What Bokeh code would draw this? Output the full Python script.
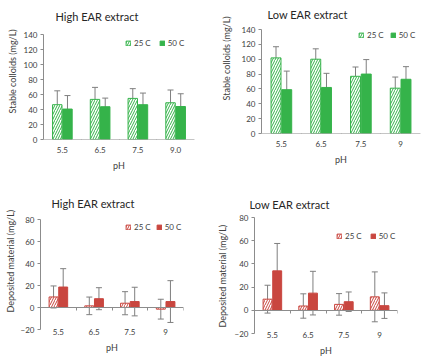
from bokeh.plotting import figure
from bokeh.layouts import column, row
from bokeh.models import (ColumnDataSource, Range1d, LinearAxis, FixedTicker,
                          Whisker, TeeHead, Legend, LegendItem, Title)
from bokeh.embed import file_html
from bokeh.resources import INLINE

# ---------------- data ----------------
ph_high = ["5.5", "6.5", "7.5", "9.0"]
ph_low = ["5.5", "6.5", "7.5", "9"]
series = ["25 C", "50 C"]

# Stable colloids (mg/L)
high_stable_25 = [46.4, 53.5, 54.8, 49.0]
high_stable_25_err = [18.5, 16.0, 13.0, 17.0]
high_stable_50 = [40.6, 43.7, 46.4, 44.0]
high_stable_50_err = [18.0, 11.5, 15.5, 17.0]

low_stable_25 = [101.8, 100.0, 77.0, 61.0]
low_stable_25_err = [15.0, 14.0, 12.5, 15.0]
low_stable_50 = [59.0, 62.0, 80.0, 73.0]
low_stable_50_err = [25.0, 19.0, 19.5, 17.0]

# Deposited material (mg/L)
high_dep_25 = [9.6, 1.5, 3.9, -1.5]
high_dep_25_err = [10.0, 8.0, 10.5, 9.0]
high_dep_50 = [18.6, 8.0, 5.4, 5.4]
high_dep_50_err = [16.7, 10.0, 13.0, 19.0]

low_dep_25 = [9.6, 3.7, 5.1, 11.6]
low_dep_25_err = [12.0, 10.5, 9.3, 21.5]
low_dep_50 = [34.0, 14.8, 7.4, 4.0]
low_dep_50_err = [23.6, 18.8, 8.4, 11.0]

GREEN = "#35b34a"
RED = "#c9463f"
AXIS = "#8c8c8c"
ERR = "#7f7f7f"
TXT = "#404040"
FONT = "Lato"


def panel(title, ylabel, cats, v25, e25, v50, e50, color, yr, ystep,
          w, h, borders, title_off, title_standoff, ylab_off, ylab_standoff,
          legend_loc, legend_spacing, xlab_standoff):
    left, right, top, bottom = borders
    n = len(cats)
    off = 0.135
    centers = [i + 0.5 for i in range(n)]
    src = ColumnDataSource(dict(
        x25=[c - off for c in centers], x50=[c + off for c in centers],
        v25=v25, v50=v50,
        u25=[a + b for a, b in zip(v25, e25)], l25=[a - b for a, b in zip(v25, e25)],
        u50=[a + b for a, b in zip(v50, e50)], l50=[a - b for a, b in zip(v50, e50)],
    ))
    p = figure(width=w, height=h, x_range=Range1d(0, n), y_range=Range1d(*yr),
               output_backend="svg", toolbar_location=None,
               min_border_left=left, min_border_right=right,
               min_border_top=top, min_border_bottom=bottom)
    p.outline_line_color = None
    p.grid.visible = False
    p.background_fill_color = "white"

    # title
    p.title.text = title
    p.title.align = "left"
    p.title.vertical_align = "top"
    p.title.offset = title_off
    p.title.text_font = FONT
    p.title.text_font_size = "11px"
    p.title.text_font_style = "normal"
    p.title.text_color = "#262626"
    p.title.standoff = title_standoff

    r25 = p.vbar(x="x25", top="v25", width=0.25, source=src,
                 fill_color="white", line_color=color, line_width=1,
                 hatch_pattern="/", hatch_color=color, hatch_scale=5, hatch_weight=1)
    r50 = p.vbar(x="x50", top="v50", width=0.25, source=src,
                 fill_color=color, line_color=color)
    for b, u, l in (("x25", "u25", "l25"), ("x50", "u50", "l50")):
        wk = Whisker(base=b, upper=u, lower=l, source=src,
                     line_color=ERR, line_width=1,
                     upper_head=TeeHead(size=6, line_color=ERR, line_width=1),
                     lower_head=TeeHead(size=6, line_color=ERR, line_width=1))
        p.add_layout(wk)

    # category axis (labels only)
    xa = p.xaxis[0]
    xa.ticker = FixedTicker(ticks=centers)
    xa.major_label_overrides = {c: lab for c, lab in zip(centers, cats)}
    xa.axis_line_color = None
    xa.major_tick_line_color = None
    xa.major_tick_in = 0
    xa.major_tick_out = 0
    xa.minor_tick_line_color = None
    xa.major_label_standoff = xlab_standoff
    xa.major_label_text_font = FONT
    xa.major_label_text_font_size = "8px"
    xa.major_label_text_color = TXT
    xa.axis_label = "pH"
    xa.axis_label_text_font = FONT
    xa.axis_label_text_font_size = "9px"
    xa.axis_label_text_font_style = "normal"
    xa.axis_label_text_color = TXT
    xa.axis_label_standoff = 4

    # boundary ticks + axis line at y = 0
    bticks = list(range(1, n + 1))
    ba = LinearAxis(fixed_location=0, ticker=FixedTicker(ticks=bticks),
                    major_label_overrides={t: "" for t in bticks},
                    major_label_text_font_size="1px", major_label_standoff=-4,
                    major_tick_in=0, major_tick_out=3, minor_tick_in=0, minor_tick_out=0,
                    axis_line_color=AXIS, major_tick_line_color=AXIS)
    p.add_layout(ba, "below")

    ya = p.yaxis[0]
    ya.ticker = FixedTicker(ticks=list(range(yr[0], yr[1] + 1, ystep)))
    ya.axis_line_color = AXIS
    ya.major_tick_line_color = AXIS
    ya.major_tick_in = 0
    ya.major_tick_out = 3
    ya.minor_tick_line_color = None
    ya.major_label_standoff = 3
    ya.major_label_text_font = FONT
    ya.major_label_text_font_size = "8px"
    ya.major_label_text_color = TXT

    yt = Title(text=ylabel, align="left", offset=ylab_off, text_font=FONT,
               text_font_size="9px", text_font_style="normal", text_color=TXT,
               standoff=ylab_standoff)
    p.add_layout(yt, "left")

    leg = Legend(items=[LegendItem(label=series[0], renderers=[r25]),
                        LegendItem(label=series[1], renderers=[r50])],
                 orientation="horizontal", location=legend_loc,
                 glyph_width=6, glyph_height=6, label_height=10, label_width=14,
                 label_standoff=3,
                 label_text_font=FONT, label_text_font_size="8px", label_text_color=TXT,
                 spacing=legend_spacing, padding=0, margin=0, border_line_alpha=0,
                 background_fill_alpha=0)
    p.add_layout(leg)
    return p


p1 = panel("High EAR extract", "Stable colloids (mg/L)", ph_high,
           high_stable_25, high_stable_25_err, high_stable_50, high_stable_50_err,
           GREEN, (0, 140), 20, 210, 180, (43, 16, 34, 41), 12, 19, 26, 6,
           (82, 91), 8, 7)
p2 = panel("Low EAR extract", "Stable colloids (mg/L)", ph_low,
           low_stable_25, low_stable_25_err, low_stable_50, low_stable_50_err,
           GREEN, (0, 140), 20, 211, 180, (51, 1, 29, 47), 6, 14, 33, 14,
           (97, 93), 6, 7)
p3 = panel("High EAR extract", "Deposited material (mg/L)", ph_low,
           high_dep_25, high_dep_25_err, high_dep_50, high_dep_50_err,
           RED, (-20, 80), 20, 210, 178, (37, 27, 39, 29), 11, 16, 17, 4,
           (85, 97), 5, -1)
p4 = panel("Low EAR extract", "Deposited material (mg/L)", ph_low,
           low_dep_25, low_dep_25_err, low_dep_50, low_dep_50_err,
           RED, (-20, 80), 20, 211, 178, (41, 24, 37, 25), -5, 9, 6, 8,
           (82, 92), 8, -2)

layout = column(row(column(p1), column(p2)), row(column(p3), column(p4)))
open("out.html", "w").write(file_html(layout, INLINE))
